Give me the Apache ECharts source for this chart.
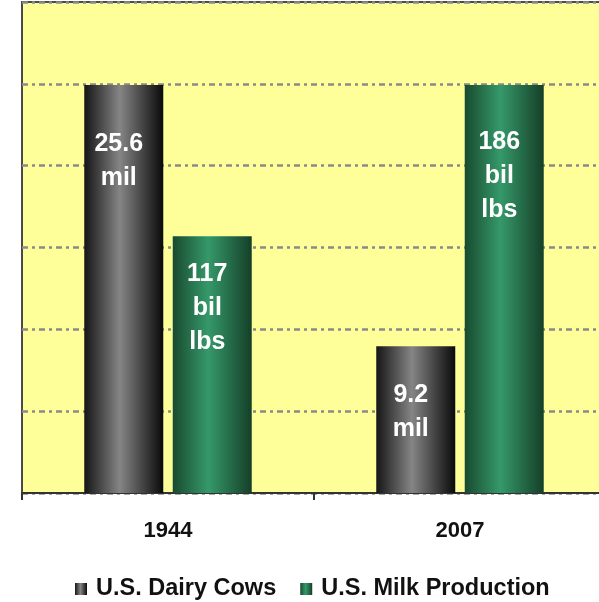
<!DOCTYPE html>
<html>
<head>
<meta charset="utf-8">
<script src="https://cdn.jsdelivr.net/npm/echarts@6/dist/echarts.min.js"></script>
<style>
html,body{margin:0;padding:0;background:#fff;overflow:hidden;width:599px;height:602px;}
#chart{width:606px;height:602px;}
</style>
</head>
<body>
<div id="chart"></div>
<script>
const categories = ['1944', '2007'];
const cowsName = 'U.S. Dairy Cows';
const milkName = 'U.S. Milk Production';
const cowsValues = [25.6, 9.2];   // million head
const milkValues = [117, 186];    // billion lbs
const cowsUnit = 'mil';
const milkUnit = 'bil\nlbs';

// label placement inside bars (style only)
const cowsLabelDist = [42, 32];
const milkLabelDist = [21, 40];

const chart = echarts.init(document.getElementById('chart'));
const font = '"Liberation Sans", Arial, sans-serif';

function grad(edgeL, mid, edgeR) {
  return new echarts.graphic.LinearGradient(0, 0, 1, 0, [
    {offset: 0, color: edgeL},
    {offset: 0.45, color: mid},
    {offset: 1, color: edgeR}
  ]);
}

const labelBase = {
  show: true,
  position: 'insideTop',
  color: '#ffffff',
  fontFamily: font,
  fontWeight: 'bold',
  fontSize: 25,
  lineHeight: 34,
  align: 'center',
  offset: [-5, 0]
};

chart.setOption({
  animation: false,
  backgroundColor: '#ffffff',
  grid: {
    left: 22, top: 2, right: 0, bottom: 109,
    show: true,
    backgroundColor: '#ffff99',
    borderColor: '#4a4a4a',
    borderWidth: 2
  },
  legend: {
    left: 75,
    top: 577,
    padding: 0,
    itemWidth: 12,
    itemHeight: 12,
    itemGap: 24,
    icon: 'rect',
    textStyle: {fontFamily: font, fontWeight: 'bold', fontSize: 23.5, color: '#111', padding: [0, 0, 0, 4]},
    data: [cowsName, milkName]
  },
  xAxis: {
    type: 'category',
    data: categories,
    axisLine: {show: true, lineStyle: {color: '#333', width: 2}},
    axisTick: {show: true, length: 7, lineStyle: {color: '#333', width: 2}},
    axisLabel: {fontFamily: font, fontWeight: 'bold', fontSize: 22, color: '#111', margin: 27}
  },
  yAxis: [
    {
      type: 'value', min: 0, max: 30.8, interval: 30.8 / 6,
      axisLine: {show: false}, axisTick: {show: false}, axisLabel: {show: false},
      splitLine: {show: true, lineStyle: {color: '#8a8a8a', width: 2.5, type: [6, 4, 3, 4]}}
    },
    {
      type: 'value', min: 0, max: 223.8, interval: 223.8 / 6,
      axisLine: {show: false}, axisTick: {show: false}, axisLabel: {show: false},
      splitLine: {show: false}
    }
  ],
  series: [
    {
      name: cowsName,
      type: 'bar',
      yAxisIndex: 0,
      barWidth: 79,
      barGap: '12%',
      itemStyle: {color: grad('#151515', '#858585', '#0a0a0a')},
      label: Object.assign({}, labelBase, {formatter: '{c}\n' + cowsUnit}),
      data: cowsValues.map((v, i) => ({value: v, label: {distance: cowsLabelDist[i]}}))
    },
    {
      name: milkName,
      type: 'bar',
      yAxisIndex: 1,
      barWidth: 79,
      barGap: '12%',
      itemStyle: {color: grad('#184a2f', '#35996a', '#153f28')},
      label: Object.assign({}, labelBase, {formatter: '{c}\n' + milkUnit}),
      data: milkValues.map((v, i) => ({value: v, label: {distance: milkLabelDist[i]}}))
    }
  ]
});
</script>
</body>
</html>
